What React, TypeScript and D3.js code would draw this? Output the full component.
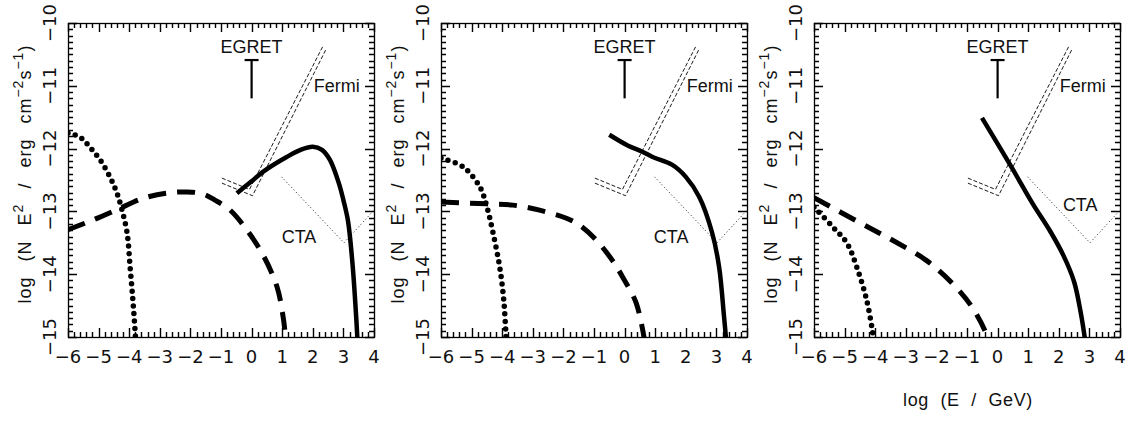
import React from 'react';
import * as d3 from 'd3';

// axis ranges and tick labels
const xTicks = [-6, -5, -4, -3, -2, -1, 0, 1, 2, 3, 4];
const yTicks = [-15, -14, -13, -12, -11, -10];

// instrument sensitivities (same in every panel)
const fermiA = [[-0.97, -12.47], [-0.07, -12.65], [2.33, -10.37]];
const fermiB = [[-0.97, -12.55], [0.03, -12.75], [2.43, -10.42]];
const cta = [[0.98, -12.45], [3.02, -13.5], [4.0, -12.98]];
const egret = { x: 0, top: -10.59, bottom: -11.2 };

// panel 1
const dotted1 = [[-6, -11.75], [-5.6, -11.82], [-5.28, -11.98], [-4.95, -12.18], [-4.63, -12.45], [-4.4, -12.71], [-4.25, -12.95], [-4.07, -13.34], [-3.97, -13.89], [-3.88, -14.41], [-3.81, -14.89], [-3.79, -15.05]];
const dashed1 = [[-6, -13.29], [-5.2, -13.14], [-4.3, -12.95], [-3.6, -12.8], [-2.8, -12.71], [-2.1, -12.69], [-1.6, -12.72], [-1.2, -12.82], [-0.7, -12.98], [-0.15, -13.3], [0.37, -13.69], [0.83, -14.2], [1.03, -14.68], [1.12, -15.05]];
const solid1 = [[-0.48, -12.71], [0, -12.52], [0.37, -12.37], [1.16, -12.13], [1.6, -12.02], [2.0, -11.97], [2.3, -12.02], [2.56, -12.18], [2.85, -12.55], [3.0, -12.82], [3.15, -13.15], [3.3, -13.85], [3.42, -14.7], [3.46, -15.05]];

// panel 2
const dotted2 = [[-6, -12.15], [-5.28, -12.29], [-4.73, -12.61], [-4.5, -12.93], [-4.3, -13.34], [-4.08, -13.89], [-3.95, -14.41], [-3.88, -14.94], [-3.87, -15.05]];
const dashed2 = [[-6, -12.85], [-4.5, -12.88], [-3.65, -12.9], [-2.78, -12.98], [-1.9, -13.11], [-1.47, -13.22], [-0.92, -13.46], [-0.4, -13.78], [-0.07, -14.04], [0.38, -14.46], [0.65, -15.05]];
const solid2 = [[-0.5, -11.78], [0.1, -11.95], [0.58, -12.05], [0.9, -12.13], [1.56, -12.26], [2.0, -12.45], [2.44, -12.77], [2.86, -13.34], [3.09, -13.89], [3.25, -14.68], [3.32, -15.05]];

// panel 3
const dotted3 = [[-6, -12.93], [-5.38, -13.25], [-4.93, -13.5], [-4.6, -13.89], [-4.28, -14.41], [-4.08, -14.94], [-4.06, -15.05]];
const dashed3 = [[-6, -12.78], [-4.5, -13.18], [-3.43, -13.46], [-2.33, -13.78], [-1.49, -14.14], [-0.84, -14.52], [-0.38, -14.94], [-0.33, -15.05]];
const solid3 = [[-0.51, -11.51], [0.46, -12.3], [1.15, -12.88], [1.7, -13.3], [2.15, -13.7], [2.5, -14.12], [2.72, -14.62], [2.86, -15.05]];

const panelLefts = [68, 441, 814];
const ctaLabels = [[1.55, -13.4], [1.52, -13.4], [2.7, -12.9]];
const curves = [
  [dotted1, dashed1, solid1],
  [dotted2, dashed2, solid2],
  [dotted3, dashed3, solid3],
];

const W = 306, H = 314, TOP = 23;
const FONT = "'Liberation Sans', Arial, sans-serif";
const TICKFONT = "'DejaVu Sans', sans-serif";

const crisp = (v: number) => Math.round(v) + 0.5;

function Panel({ idx }: { idx: number }) {
  const left = panelLefts[idx];
  const x = d3.scaleLinear().domain([-6, 4]).range([left, left + W]);
  const y = d3.scaleLinear().domain([-15, -10]).range([TOP + H, TOP]);
  const line = d3.line<number[]>().x(d => x(d[0])).y(d => y(d[1])).curve(d3.curveCatmullRom.alpha(0.5));
  const straight = d3.line<number[]>().x(d => x(d[0])).y(d => y(d[1]));
  const [dotted, dashed, solid] = curves[idx];
  const clip = 'clip' + idx;

  // minor ticks every 0.2 in x and 0.1 in y, majors on the integers
  const xMinor = d3.range(0, 51).map(i => -6 + i * 0.2);
  const yMinor = d3.range(0, 51).map(i => -15 + i * 0.1);
  const isMajor = (v: number) => Math.abs(v - Math.round(v)) < 1e-6;

  const bottom = TOP + H, right = left + W;
  let tickPath = '';
  xMinor.forEach(v => {
    const len = isMajor(v) ? 9 : 5;
    const px = crisp(x(v));
    tickPath += `M${px},${bottom}V${bottom - len}M${px},${TOP}V${TOP + len}`;
  });
  yMinor.forEach(v => {
    const len = isMajor(v) ? 9 : 5;
    const py = crisp(y(v));
    tickPath += `M${left},${py}H${left + len}M${right},${py}H${right - len}`;
  });

  return (
    <g>
      <defs>
        <clipPath id={clip}>
          <rect x={left} y={TOP} width={W} height={H} />
        </clipPath>
      </defs>
      <path d={tickPath} stroke="#000" strokeWidth={1.4} fill="none" />
      <rect x={left + 0.5} y={TOP + 0.5} width={W} height={H} fill="none" stroke="#000" strokeWidth={1.3} />

      <g fontFamily={TICKFONT} fontSize={18} fill="#111">
        {xTicks.map(v => (
          <text key={v} x={x(v)} y={bottom + 26} textAnchor="middle">{v < 0 ? '\u2212' + Math.abs(v) : v}</text>
        ))}
        {yTicks.map(v => (
          <text key={v} transform={`translate(${left - 18},${y(v)}) rotate(-90)`} textAnchor="middle" dy="0.36em">
            {'\u2212' + Math.abs(v)}
          </text>
        ))}
      </g>

      <g fontFamily={FONT} fontSize={18} fill="#111">
        <text transform={`translate(${left - 43},${TOP + H / 2 - 6}) rotate(-90)`} textAnchor="middle" dy="0.35em"
          style={{ wordSpacing: '9px', letterSpacing: '1px' }}>
          log (N E<tspan dy="-8" fontSize={14}>2</tspan><tspan dy="8"> / erg cm</tspan><tspan dy="-8" fontSize={14}>{'\u2212'}2</tspan><tspan dy="8">s</tspan><tspan dy="-8" fontSize={14}>{'\u2212'}1</tspan><tspan dy="8">)</tspan>
        </text>
        <text x={x(egret.x)} y={y(-10.38)} textAnchor="middle" dy="0.35em">EGRET</text>
        <text x={x(2.03)} y={y(-11)} dy="0.35em">Fermi</text>
        <text x={x(ctaLabels[idx][0])} y={y(ctaLabels[idx][1])} textAnchor="middle" dy="0.35em">CTA</text>
      </g>

      {/* EGRET upper limit */}
      <g stroke="#000" strokeWidth={2.2}>
        <line x1={x(egret.x)} x2={x(egret.x)} y1={y(egret.top)} y2={y(egret.bottom)} />
        <line x1={x(egret.x) - 7} x2={x(egret.x) + 7} y1={y(egret.top)} y2={y(egret.top)} />
      </g>

      <g clipPath={`url(#${clip})`} fill="none" stroke="#000">
        <path d={straight(fermiA) || ''} strokeWidth={0.9} strokeDasharray="4 2" />
        <path d={straight(fermiB) || ''} strokeWidth={0.9} strokeDasharray="4 2" />
        <path d={straight(cta) || ''} strokeWidth={0.9} strokeDasharray="1 2.5" />
        <path d={line(dotted) || ''} strokeWidth={5.5} strokeLinecap="round" strokeDasharray="0 7.5" />
        <path d={line(dashed) || ''} strokeWidth={5} strokeDasharray="18 11" />
        <path d={line(solid) || ''} strokeWidth={4.5} />
      </g>
    </g>
  );
}

export default function App() {
  return (
    <svg width={1132} height={421} style={{ position: 'absolute', left: 0, top: 0, background: '#fff' }}>
      <rect width={1132} height={421} fill="#fff" />
      {[0, 1, 2].map(i => <Panel key={i} idx={i} />)}
      <text x={968} y={400} textAnchor="middle" dy="0.35em" fontFamily={FONT} fontSize={18} fill="#111"
        style={{ wordSpacing: '6px', letterSpacing: '0.6px' }}>log (E / GeV)</text>
    </svg>
  );
}
